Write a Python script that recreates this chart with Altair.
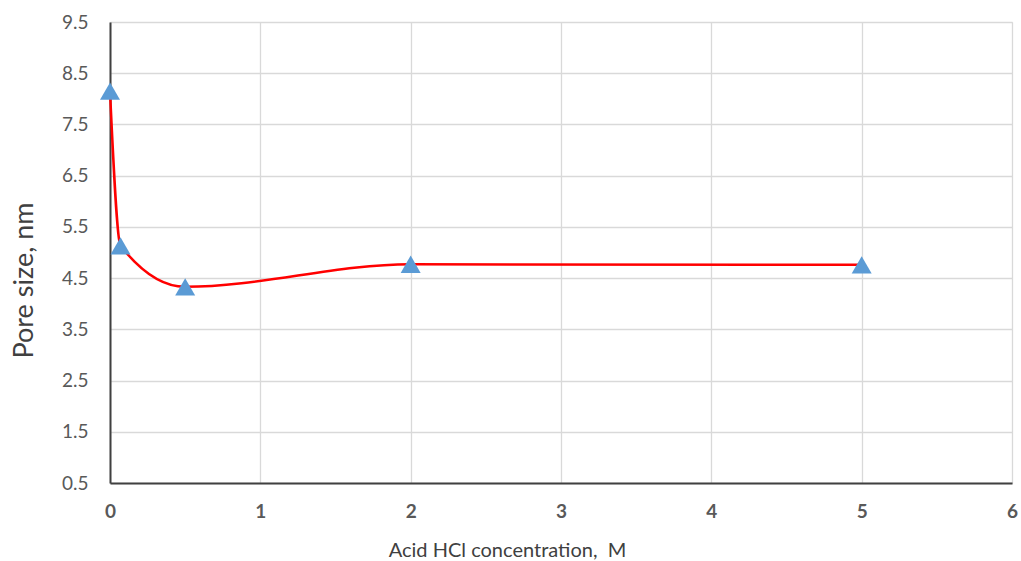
import altair as alt
import pandas as pd

conc = [0.0, 0.07, 0.5, 2.0, 5.0]
pore = [8.15, 5.13, 4.33, 4.77, 4.76]
y_ticks = [0.5, 1.5, 2.5, 3.5, 4.5, 5.5, 6.5, 7.5, 8.5, 9.5]
x_ticks = [0, 1, 2, 3, 4, 5, 6]

df = pd.DataFrame({"x": conc, "y": pore})

FONT = "Lato"
LABEL_COLOR = "#595959"

x_enc = alt.X(
    "x:Q",
    scale=alt.Scale(domain=[0, 6], nice=False, zero=False),
    axis=alt.Axis(
        values=x_ticks, format="d", title="Acid HCl concentration,\u00a0 M",
        titleFontSize=20, titleFont=FONT, titleColor="#404040", titleFontWeight="normal",
        titleX=397, titleY=73, titleAlign="center", titleBaseline="alphabetic",
        labelFont=FONT, labelFontSize=19, labelColor=LABEL_COLOR, labelPadding=19,
        labelFontWeight="bold", labelFlush=False,
        ticks=False, domainColor="#404040", domainWidth=2,
        gridColor="#D9D9D9", gridWidth=1.3,
    ),
)
y_enc = alt.Y(
    "y:Q",
    scale=alt.Scale(domain=[0.5, 9.5], nice=False, zero=False),
    axis=alt.Axis(
        values=y_ticks, format=".1f", title="Pore size, nm",
        titleFontSize=27, titleFont=FONT, titleColor="#404040", titleFontWeight="normal",
        titleX=-78, titleY=258, titleAngle=-90, titleAlign="center", titleBaseline="alphabetic",
        labelFont=FONT, labelFontSize=19, labelColor=LABEL_COLOR, labelPadding=22,
        labelFlush=False,
        ticks=False, domainColor="#404040", domainWidth=2,
        gridColor="#D9D9D9", gridWidth=1.3,
    ),
)

line = alt.Chart(df).mark_line(
    color="#FF0000", strokeWidth=2.5, interpolate="monotone"
).encode(x=x_enc, y=y_enc)

pts = alt.Chart(df).mark_point(
    shape="triangle-up", filled=True, color="#5B9BD5", opacity=1, size=400
).encode(x="x:Q", y="y:Q")

chart = (
    alt.layer(line, pts)
    .properties(
        width=902, height=461,
        autosize=alt.AutoSizeParams(type="none"),
        padding={"left": 110, "top": 22, "right": 9, "bottom": 78},
    )
    .configure_view(stroke=None)
    .configure(background="white")
)

chart.save("out.html", embed_options={"renderer": "svg", "actions": False})
